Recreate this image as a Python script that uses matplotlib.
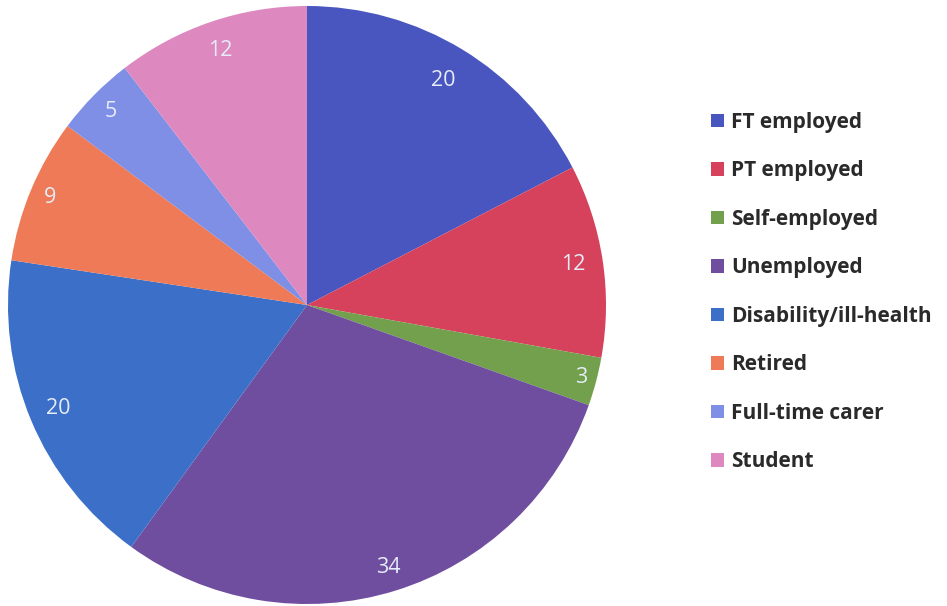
import numpy as np
import matplotlib
matplotlib.use("Agg")
import matplotlib.pyplot as plt
from matplotlib.patches import Patch

categories = ["FT employed", "PT employed", "Self-employed", "Unemployed",
              "Disability/ill-health", "Retired", "Full-time carer", "Student"]
counts = [20, 12, 3, 34, 20, 9, 5, 12]
colors = ["#4a56c0", "#d6425c", "#72a04c", "#6f4ea0",
          "#3b6fc8", "#ee7a58", "#7f8fe6", "#de88c0"]
# radial position of each value label (fraction of the radius)
label_dist = [0.88, 0.90, 0.95, 0.92, 0.90, 0.93, 0.92, 0.90]

plt.rcParams["font.family"] = ["Open Sans", "DejaVu Sans"]

W, H = 947, 606
fig = plt.figure(figsize=(W / 100, H / 100), dpi=100)
cx, cy, r = 307, 305, 299
ax = fig.add_axes([(cx - r) / W, (H - cy - r) / H, 2 * r / W, 2 * r / H])

wedges, texts = ax.pie(
    counts, colors=colors, startangle=90, counterclock=False,
    radius=1.0, wedgeprops=dict(linewidth=0),
)
for w, v, d in zip(wedges, counts, label_dist):
    mid = np.deg2rad((w.theta1 + w.theta2) / 2)
    ax.text(d * np.cos(mid), d * np.sin(mid), f"{v}", ha="center", va="center",
            color="#e6ecf8", fontsize=15.5)
ax.set_xlim(-1, 1)
ax.set_ylim(-1, 1)
ax.set_aspect("equal")
ax.axis("off")

handles = [Patch(facecolor=c, edgecolor="none") for c in colors]
fig.legend(handles, categories, loc="upper left",
           bbox_to_anchor=(692 / W, 1 - 93 / H), frameon=False,
           prop=dict(family=["Open Sans", "DejaVu Sans"], size=15, weight="bold"),
           handlelength=0.62, handleheight=0.62,
           handletextpad=0.34, labelspacing=1.32, labelcolor="#2a2a2a")

fig.savefig("out.png", dpi=100)
